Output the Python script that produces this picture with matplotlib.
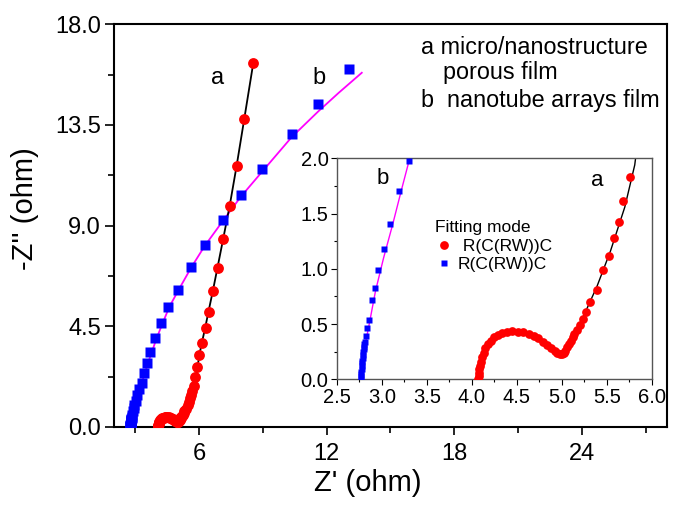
import matplotlib
matplotlib.use('Agg')
import matplotlib.pyplot as plt
from matplotlib.ticker import MultipleLocator, FormatStrFormatter

plt.rcParams['font.family'] = ['Liberation Sans', 'DejaVu Sans']

# sample a: micro/nanostructure porous film (measured points)
a_x = [4.07, 4.075, 4.08, 4.085, 4.09, 4.10, 4.11, 4.13, 4.15, 4.18, 4.21, 4.25, 4.29, 4.34,
       4.39, 4.45, 4.51, 4.57, 4.63, 4.69, 4.74, 4.79, 4.84, 4.88, 4.92, 4.95, 4.98, 5.00,
       5.02, 5.04, 5.06, 5.08, 5.10, 5.12, 5.14, 5.17, 5.20, 5.24, 5.27, 5.31, 5.39, 5.46,
       5.52, 5.58, 5.63, 5.68, 5.76, 5.80, 5.90, 6.01, 6.14, 6.30, 6.45, 6.65, 6.87, 7.13,
       7.44, 7.76, 8.12, 8.55]
a_y = [0.00, 0.03, 0.06, 0.09, 0.12, 0.16, 0.20, 0.24, 0.28, 0.32, 0.35, 0.38, 0.40, 0.42,
       0.43, 0.435, 0.43, 0.425, 0.41, 0.39, 0.37, 0.34, 0.31, 0.28, 0.26, 0.24, 0.23, 0.23,
       0.24, 0.26, 0.29, 0.32, 0.35, 0.38, 0.41, 0.45, 0.49, 0.55, 0.61, 0.70, 0.81, 0.99,
       1.12, 1.28, 1.42, 1.61, 1.83, 2.25, 2.69, 3.21, 3.73, 4.40, 5.15, 6.06, 7.11, 8.38,
       9.89, 11.65, 13.75, 16.28]

# fitted curve a
fa_x = [4.07, 4.09, 4.13, 4.20, 4.30, 4.45, 4.60, 4.75, 4.88, 4.97, 5.02, 5.08, 5.15, 5.24,
        5.39, 5.54, 5.70, 5.81, 5.88, 5.96, 6.05, 6.15, 6.30, 6.45, 6.65, 6.87, 7.13, 7.44,
        7.76, 8.12, 8.55]
fa_y = [0.00, 0.12, 0.25, 0.34, 0.41, 0.43, 0.42, 0.37, 0.29, 0.24, 0.24, 0.31, 0.42, 0.57,
        0.84, 1.16, 1.56, 1.94, 2.40, 2.90, 3.40, 3.85, 4.50, 5.20, 6.10, 7.15, 8.40, 9.90,
        11.65, 13.75, 16.28]

# sample b: nanotube arrays film (measured points)
b_x = [2.765, 2.768, 2.77, 2.772, 2.775, 2.778, 2.78, 2.783, 2.786, 2.79, 2.794, 2.798,
       2.802, 2.806, 2.81, 2.82, 2.83, 2.86, 2.89, 2.92, 2.96, 3.02, 3.09, 3.19, 3.30,
       3.42, 3.55, 3.70, 3.92, 4.20, 4.52, 5.00, 5.60, 6.26, 7.11, 7.97, 8.98, 10.35,
       11.58, 13.03]
b_y = [0.00, 0.02, 0.045, 0.07, 0.095, 0.12, 0.145, 0.17, 0.195, 0.22, 0.245, 0.27,
       0.295, 0.32, 0.34, 0.39, 0.46, 0.54, 0.72, 0.83, 0.99, 1.18, 1.41, 1.70, 1.98,
       2.40, 2.87, 3.36, 3.96, 4.63, 5.37, 6.12, 7.13, 8.11, 9.24, 10.35, 11.55, 13.11,
       14.42, 15.98]

# fitted curve b
fb_x = [2.76, 2.80, 2.86, 2.93, 3.02, 3.12, 3.22, 3.31, 3.45, 3.60, 3.78, 4.00, 4.28,
        4.60, 5.05, 5.63, 6.27, 7.11, 7.97, 9.00, 10.35, 11.60, 12.56, 13.65]
fb_y = [0.00, 0.25, 0.50, 0.80, 1.10, 1.40, 1.72, 2.00, 2.40, 2.87, 3.36, 3.96, 4.63,
        5.37, 6.15, 7.13, 8.10, 9.20, 10.30, 11.45, 12.95, 14.10, 14.93, 15.83]

fig = plt.figure(figsize=(6.75, 5.15), dpi=100)
ax = fig.add_axes([0.169, 0.171, 0.819, 0.782])

ax.plot(fb_x, fb_y, color='#ff00ff', lw=1.3, zorder=2)
ax.plot(fa_x, fa_y, color='black', lw=1.3, zorder=2)
ax.plot(a_x, a_y, 'o', color='#ff0000', ms=7.8, mec='none', zorder=3)
ax.plot(b_x, b_y, 's', color='#0000ff', ms=6.8, mec='none', zorder=3)

ax.set_xlim(2, 28)
ax.set_ylim(0, 18)
ax.xaxis.set_major_locator(MultipleLocator(6))
ax.xaxis.set_minor_locator(MultipleLocator(3))
ax.yaxis.set_major_locator(MultipleLocator(4.5))
ax.yaxis.set_minor_locator(MultipleLocator(2.25))
ax.yaxis.set_major_formatter(FormatStrFormatter('%.1f'))
ax.tick_params(which='major', direction='out', length=6.5, width=1.2, labelsize=17, pad=3)
ax.tick_params(which='minor', direction='out', length=4, width=1.2)
ax.tick_params(axis='x', which='major', length=5.5, pad=6)
for s in ax.spines.values():
    s.set_linewidth(1.5)
ax.set_xlabel("Z' (ohm)", fontsize=21)
ax.xaxis.set_label_coords(0.459, -0.105)
ax.set_ylabel("-Z'' (ohm)", fontsize=21)
ax.yaxis.set_label_coords(-0.135, 0.543)

ax.text(6.86, 15.58, 'a', fontsize=17, ha='center', va='center')
ax.text(11.63, 15.58, 'b', fontsize=17, ha='center', va='center')
ax.text(16.44, 16.96, 'a micro/nanostructure', fontsize=16.8, ha='left', va='center')
ax.text(17.47, 15.85, 'porous film', fontsize=16.8, ha='left', va='center')
ax.text(16.44, 14.60, 'b  nanotube arrays film', fontsize=16.8, ha='left', va='center')

# inset: high-frequency region
ins = fig.add_axes([0.499, 0.2635, 0.4667, 0.4291])
ins.plot(fb_x, fb_y, color='#ff00ff', lw=1, zorder=2)
ins.plot(fa_x, fa_y, color='black', lw=1, zorder=2)
ins.plot(a_x, a_y, 'o', color='#ff0000', ms=6.3, mec='none', zorder=3, label=' R(C(RW))C')
ins.plot(b_x, b_y, 's', color='#0000ff', ms=4.5, mec='none', zorder=3, label='R(C(RW))C')
ins.set_xlim(2.5, 6.0)
ins.set_ylim(0, 2.0)
ins.xaxis.set_major_locator(MultipleLocator(0.5))
ins.xaxis.set_minor_locator(MultipleLocator(0.25))
ins.yaxis.set_major_locator(MultipleLocator(0.5))
ins.yaxis.set_minor_locator(MultipleLocator(0.25))
ins.xaxis.set_major_formatter(FormatStrFormatter('%.1f'))
ins.yaxis.set_major_formatter(FormatStrFormatter('%.1f'))
ins.tick_params(which='major', direction='out', length=4, width=0.8, labelsize=14.5, pad=2)
ins.tick_params(which='minor', direction='out', length=2.5, width=0.8)
for s in ins.spines.values():
    s.set_linewidth(1)
    s.set_color('#555555')
ins.text(3.01, 1.82, 'b', fontsize=16, ha='center', va='center')
ins.text(5.39, 1.80, 'a', fontsize=16, ha='center', va='center')
leg = ins.legend(title='Fitting mode', loc='upper left', bbox_to_anchor=(0.273, 0.775),
                 frameon=False, fontsize=12.5, title_fontsize=12.5, handlelength=1,
                 handletextpad=0.3, labelspacing=0.2, borderpad=0.2, alignment='left')

fig.savefig('out.png', dpi=100)
